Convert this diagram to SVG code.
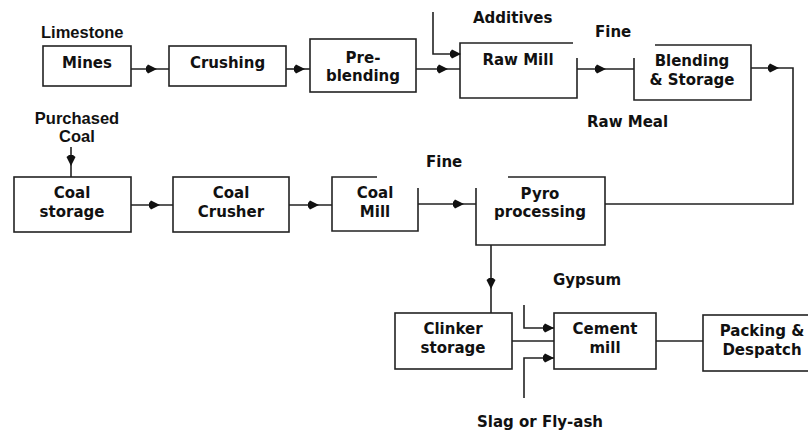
<svg xmlns="http://www.w3.org/2000/svg" xmlns:xlink="http://www.w3.org/1999/xlink" width="808" height="434" viewBox="0 0 808 434">
<style>
.box{fill:none;stroke:#222;stroke-width:1.6}
.ln{fill:none;stroke:#222;stroke-width:1.6}
.t{font-family:"DejaVu Sans",Verdana,sans-serif;font-weight:bold;font-size:15px;fill:#111;text-anchor:middle}
.l{font-family:"DejaVu Sans",Verdana,sans-serif;font-weight:bold;font-size:15px;fill:#111}
.a{font-family:"Liberation Sans",Arial,sans-serif;font-weight:bold;font-size:16.5px;fill:#111}
</style>
<defs>
<path id="ah" d="M2,0 L-7,-4.5 L-9,-2 L-9,2 L-7,4.5 Z" fill="#111"/>
</defs>
<rect width="808" height="434" fill="#fff"/>

<g id="nodes">
<g id="mines"><rect class="box" x="43" y="46" width="88" height="40"/><text class="t" x="87" y="68">Mines</text></g>
<g id="crushing"><rect class="box" x="169" y="46" width="117" height="40"/><text class="t" x="227.5" y="68">Crushing</text></g>
<g id="preblending"><rect class="box" x="310" y="39" width="106" height="53"/><text class="t" x="363" y="63">Pre-</text><text class="t" x="363" y="81">blending</text></g>
<g id="rawmill"><path class="box" d="M573,43 H460 V98 H577 V58"/><text class="t" x="518" y="65">Raw Mill</text></g>
<g id="blending"><path class="box" d="M655,45 H751 V100 H634 V58"/><text class="t" x="692" y="66">Blending</text><text class="t" x="692" y="85">&amp; Storage</text></g>
<g id="coalstorage"><rect class="box" x="14" y="177" width="117" height="55"/><text class="t" x="72" y="198">Coal</text><text class="t" x="72" y="217">storage</text></g>
<g id="coalcrusher"><rect class="box" x="173" y="177" width="116" height="55"/><text class="t" x="231" y="198">Coal</text><text class="t" x="231" y="217">Crusher</text></g>
<g id="coalmill"><path class="box" d="M377,177 H332 V231 H418 V188"/><text class="t" x="375" y="198">Coal</text><text class="t" x="375" y="217">Mill</text></g>
<g id="pyro"><path class="box" d="M508,177 H605 V245 H476 V188"/><text class="t" x="540" y="199">Pyro</text><text class="t" x="540" y="217">processing</text></g>
<g id="clinker"><rect class="box" x="395" y="313" width="117" height="56"/><text class="t" x="453" y="334">Clinker</text><text class="t" x="453" y="353">storage</text></g>
<g id="cementmill"><rect class="box" x="554" y="313" width="102" height="56"/><text class="t" x="605" y="334">Cement</text><text class="t" x="605" y="353">mill</text></g>
<g id="packing"><rect class="box" x="703" y="315" width="110" height="56"/><text class="t" x="762" y="336">Packing &amp;</text><text class="t" x="762" y="355">Despatch</text></g>
</g>

<g id="connectors">
<path class="ln" d="M131,69 H169"/><use xlink:href="#ah" transform="translate(155,69)"/>
<path class="ln" d="M286,69 H310"/><use xlink:href="#ah" transform="translate(303,69)"/>
<path class="ln" d="M416,69 H460"/><use xlink:href="#ah" transform="translate(446,69)"/>
<path class="ln" d="M433,12 V54 H460"/><use xlink:href="#ah" transform="translate(459,54)"/>
<path class="ln" d="M577,69 H634"/><use xlink:href="#ah" transform="translate(604,69)"/>
<path class="ln" d="M751,68 H793 V204 H605"/><use xlink:href="#ah" transform="translate(777,68)"/>
<path class="ln" d="M71,147 V177"/><use xlink:href="#ah" transform="translate(71,164) rotate(90)"/>
<path class="ln" d="M131,205 H173"/><use xlink:href="#ah" transform="translate(158,205)"/>
<path class="ln" d="M289,205 H332"/><use xlink:href="#ah" transform="translate(317,205)"/>
<path class="ln" d="M418,204 H476"/><use xlink:href="#ah" transform="translate(462,204)"/>
<path class="ln" d="M491,245 V313"/><use xlink:href="#ah" transform="translate(491,287) rotate(90)"/>
<path class="ln" d="M512,341 H554"/>
<path class="ln" d="M524,305 V328 H554"/><use xlink:href="#ah" transform="translate(552,328)"/>
<path class="ln" d="M524,398 V358 H554"/><use xlink:href="#ah" transform="translate(552,358)"/>
<path class="ln" d="M656,341 H703"/>
</g>

<g id="labels">
<text class="a" x="41" y="38">Limestone</text>
<text class="a" x="77" y="124" text-anchor="middle">Purchased</text>
<text class="a" x="77" y="142" text-anchor="middle">Coal</text>
<text class="l" x="473" y="23">Additives</text>
<text class="l" x="595" y="37">Fine</text>
<text class="l" x="587" y="127">Raw Meal</text>
<text class="l" x="426" y="167">Fine</text>
<text class="l" x="553" y="285">Gypsum</text>
<text class="t" x="540" y="427">Slag or Fly-ash</text>
</g>
</svg>
